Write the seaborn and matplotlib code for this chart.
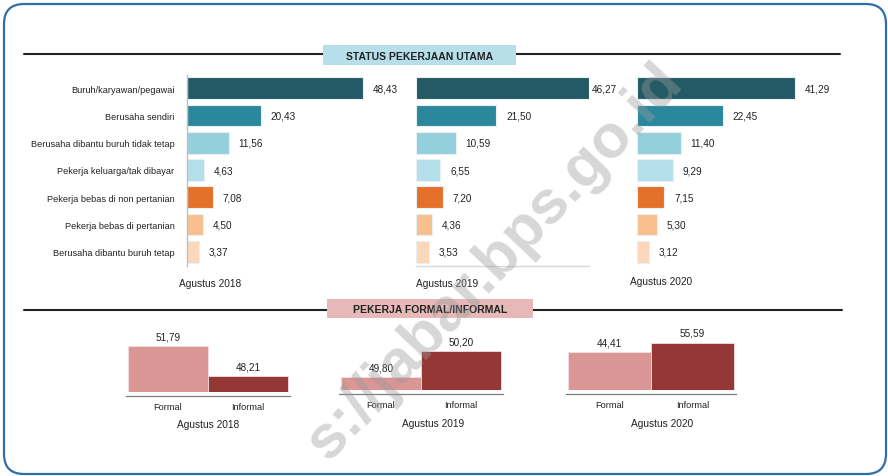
import matplotlib
matplotlib.use("Agg")
import matplotlib.pyplot as plt
from matplotlib.patches import FancyBboxPatch, Rectangle
import seaborn as sns

# data
categories = ["Buruh/karyawan/pegawai", "Berusaha sendiri", "Berusaha dibantu buruh tidak tetap",
              "Pekerja keluarga/tak dibayar", "Pekerja bebas di non pertanian",
              "Pekerja bebas di pertanian", "Berusaha dibantu buruh tetap"]
status_2018 = [48.43, 20.43, 11.56, 4.63, 7.08, 4.50, 3.37]
status_2019 = [46.27, 21.50, 10.59, 6.55, 7.20, 4.36, 3.53]
status_2020 = [41.29, 22.45, 11.40, 9.29, 7.15, 5.30, 3.12]
periods = ["Agustus 2018", "Agustus 2019", "Agustus 2020"]
jenis = ["Formal", "Informal"]
formal = [51.79, 49.80, 44.41]
informal = [48.21, 50.20, 55.59]

status_colors = ["#235a66", "#2b879c", "#94cfdc", "#b5dfea", "#e5702a", "#f9bf8f", "#fdd7b9"]
fi_colors = ["#d99694", "#953735"]

sns.set_style("white")
plt.rcParams["font.family"] = ["Liberation Sans", "DejaVu Sans"]

W, H = 888, 477
fig = plt.figure(figsize=(W / 100, H / 100), dpi=100)


def px_axes(l, t, r, b):
    ax = fig.add_axes([l / W, 1 - b / H, (r - l) / W, (b - t) / H])
    ax.patch.set_visible(False)
    return ax


def fmt(v):
    return f"{v:.2f}".replace(".", ",")


# background layer in pixel coordinates
bg = fig.add_axes([0, 0, 1, 1], zorder=-1)
bg.set_xlim(0, W)
bg.set_ylim(H, 0)
bg.axis("off")
bg.add_patch(FancyBboxPatch((4, 5), 882, 470, boxstyle="round,pad=0,rounding_size=20",
                            fill=False, edgecolor="#2e6fa7", linewidth=1.6))
bg.plot([24, 840], [54.5, 54.5], color="#222222", lw=1.5, zorder=1)
bg.add_patch(Rectangle((323, 46), 193, 20, facecolor="#b7dfea", edgecolor="none", zorder=3))
bg.text(420, 56.5, "STATUS PEKERJAAN UTAMA", ha="center", va="center", fontsize=7.5,
        fontweight="bold", color="#222222", zorder=4)
bg.plot([24, 842], [310.5, 310.5], color="#222222", lw=1.5, zorder=1)
bg.add_patch(Rectangle((327, 300), 206, 19, facecolor="#e6b9b8", edgecolor="none", zorder=3))
bg.text(430, 310.5, "PEKERJA FORMAL/INFORMAL", ha="center", va="center", fontsize=7.5,
        fontweight="bold", color="#222222", zorder=4)

# status pekerjaan panels
top_boxes = [(187, 387), (416, 589), (637, 837)]
top_xmax = [55.1, 46.3, 52.2]
status_all = [status_2018, status_2019, status_2020]
label_pos = [(210, 284), (447, 284), (661, 282)]

for k, vals in enumerate(status_all):
    l, r = top_boxes[k]
    ax = px_axes(l, 75.5, r, 266.5)
    sns.barplot(x=vals, y=categories, hue=categories, palette=status_colors, legend=False,
                orient="h", width=0.8, saturation=1, edgecolor="#e8f0f2", linewidth=0.8, ax=ax)
    ax.set_xlim(0, top_xmax[k])
    ax.set_ylim(6.5, -0.5)
    for cont, v in zip(ax.containers, vals):
        pad = 2 if (k == 1 and v == max(vals)) else 7
        ax.bar_label(cont, labels=[fmt(v)], padding=pad, fontsize=7.2, color="#222222")
    ax.set_xlabel("")
    ax.set_ylabel("")
    ax.set_xticks([])
    sns.despine(ax=ax, top=True, right=True, left=(k != 0), bottom=(k != 1))
    if k == 0:
        ax.spines["left"].set_color("#bfbfbf")
        ax.spines["left"].set_linewidth(1)
        ax.set_yticks(range(len(categories)))
        ax.set_yticklabels(categories, fontsize=6.6, color="#222222")
        ax.set_yticks([i - 0.5 for i in range(len(categories) + 1)], minor=True)
        ax.tick_params(axis="y", which="major", length=0, pad=9)
        ax.tick_params(axis="y", which="minor", length=3, color="#bfbfbf", direction="out")
    else:
        ax.set_yticks([])
    if k == 1:
        ax.spines["bottom"].set_color("#d9d9d9")
        ax.spines["bottom"].set_linewidth(1)
    fig.text(label_pos[k][0] / W, 1 - label_pos[k][1] / H, periods[k], ha="center",
             va="center", fontsize=7.3, color="#222222")

# formal / informal panels
bot_boxes = [(126, 290, 393), (339, 503, 391), (566, 736, 391)]
y_base = [46.3, 49.6, 0.0]
px_per_unit = [8.38, 64.4, 0.851]
bot_label_pos = [(208, 425), (433, 424), (662, 424)]

for k in range(3):
    l, r, b = bot_boxes[k]
    t = 325
    ax = px_axes(l, t, r, b)
    vals = [formal[k], informal[k]]
    sns.barplot(x=jenis, y=vals, hue=jenis, palette=fi_colors, legend=False, width=1.0,
                saturation=1, edgecolor="#f3dede", linewidth=0.6, ax=ax)
    ax.set_xlim(-0.525, 1.525)
    ax.set_ylim(y_base[k], y_base[k] + (b - t) / px_per_unit[k])
    for cont, v in zip(ax.containers, vals):
        ax.bar_label(cont, labels=[fmt(v)], padding=3.5, fontsize=7.2, color="#222222")
    ax.set_xlabel("")
    ax.set_ylabel("")
    ax.set_yticks([])
    sns.despine(ax=ax, top=True, right=True, left=True)
    ax.spines["bottom"].set_position(("outward", 3))
    ax.spines["bottom"].set_color("#7f7f7f")
    ax.spines["bottom"].set_linewidth(0.9)
    ax.set_xticks([-0.52, 1.52], minor=True)
    ax.tick_params(axis="x", which="minor", direction="in", length=3, color="#7f7f7f")
    ax.tick_params(axis="x", which="major", length=0, pad=4, labelsize=6.6, labelcolor="#222222")
    fig.text(bot_label_pos[k][0] / W, 1 - bot_label_pos[k][1] / H, periods[k], ha="center",
             va="center", fontsize=7.3, color="#222222")

# watermark (visible part)
fig.text(495 / W, 1 - 262 / H, "s://jabar.bps.go.id", ha="center", va="center",
         rotation=46.7, fontsize=44, fontweight="bold", color="#9a9a9a", alpha=0.4, zorder=10)

fig.savefig("out.png", dpi=100)
